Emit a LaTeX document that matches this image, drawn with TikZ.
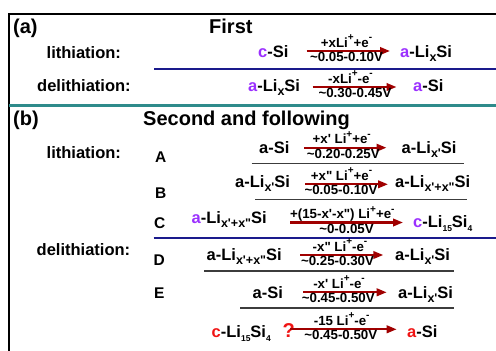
\documentclass[tikz,border=0pt]{standalone}
\usepackage{fontspec}
\usetikzlibrary{arrows.meta}
\newfontfamily\arb{Liberation Sans}
\definecolor{vio}{HTML}{9B30FF}
\definecolor{rd}{HTML}{F01414}
\definecolor{arr}{HTML}{A00000}
\definecolor{navy}{HTML}{1A1A8C}
\definecolor{tealline}{HTML}{2E8B8B}
\definecolor{rulegray}{HTML}{3C3C3C}
% raised charge, lowered indices
\newcommand\up[1]{\raisebox{6.5pt}{\fontsize{10}{10}\selectfont #1}}
\newcommand\dn[1]{\raisebox{-4.5pt}{\fontsize{12.5}{12.5}\selectfont #1}}
\newcommand\dns[1]{\raisebox{-4.5pt}{\fontsize{8.5}{8.5}\selectfont #1}}
\newcommand\pr{'}
\tikzset{
  spec/.style={inner sep=0pt, anchor=base west, font=\arb\bfseries\fontsize{16.5}{18}\selectfont},
  title/.style={spec, font=\arb\bfseries\fontsize{20}{22}\selectfont},
  tag/.style={spec, font=\arb\bfseries\fontsize{15.5}{17}\selectfont},
  lbl/.style={inner sep=0pt, anchor=base, font=\arb\bfseries\fontsize{13.3}{14}\selectfont},
  rx/.style={draw=arr, line width=2.2pt, -{Triangle[length=10pt,width=7.5pt]}},
  sep/.style={line width=1.6pt, draw=rulegray},
}
% reaction arrow: id, x start, x end, y, x of upper label, upper label, x of lower label, lower label
\newcommand\rxn[8]{%
  \coordinate (#1s) at (#2,#4);
  \coordinate (#1e) at (#3,#4);
  \draw[rx] (#1s) -- (#1e);
  \node[lbl] (#1t) at (#5,#4-4) {#6};
  \node[lbl] (#1b) at (#7,#4+10.5) {#8};
}
\begin{document}
\begin{tikzpicture}[x=1pt,y=-1pt]
\useasboundingbox (0,0) rectangle (496,351);
% frame
\coordinate (tl) at (9,14);
\coordinate (tr) at (496,14);
\coordinate (bl) at (9,351);
\draw[line width=2pt] (tr) -- (tl);
\draw[line width=2.5pt] (9,13) -- (bl);
% section (a)
\node[title] (pa) at (13,33) {(a)};
\node[title] (first) at (209,33) {First};
\node[spec] (lia) at (46.5,58) {lithiation:};
\node[spec] (dea) at (37,91) {delithiation:};
\node[spec] (a1l) at (258,57) {\textcolor{vio}{c}-Si};
\node[spec] (a1r) at (400,57) {\textcolor{vio}{a}-Li\dn{x}Si};
\rxn{a1}{306.5}{390}{51}{346.5}{+xLi\up{+}+e\up{-}}{346.5}{\textasciitilde0.05-0.10V}
\coordinate (n1a) at (154,68.5);
\coordinate (n1b) at (496,68.5);
\draw[navy, line width=2pt] (n1a) -- (n1b);
\node[spec] (a2l) at (248,91) {\textcolor{vio}{a}-Li\dn{x}Si};
\node[spec] (a2r) at (413,91) {\textcolor{vio}{a}-Si};
\rxn{a2}{312.5}{396.5}{87}{350.5}{-xLi\up{+}-e\up{-}}{355}{\textasciitilde0.30-0.45V}
\coordinate (t1) at (9,105.5);
\coordinate (t2) at (496,105.5);
\draw[tealline, line width=2.5pt] (t1) -- (t2);
% section (b)
\node[title] (pb) at (13,125) {(b)};
\node[title] (second) at (143,125) {Second and following};
\node[spec] (lib) at (46.5,158) {lithiation:};
\node[spec] (deb) at (36.5,255) {delithiation:};
\node[tag] (tA) at (155,162) {A};
\node[tag] (tB) at (155,198) {B};
\node[tag] (tC) at (154,228) {C};
\node[tag] (tD) at (153.5,265) {D};
\node[tag] (tE) at (154,298) {E};
% A
\node[spec] (Al) at (259,153) {a-Si};
\node[spec] (Ar) at (401.5,153) {a-Li\dn{x\pr}Si};
\rxn{A}{304}{386.5}{147.7}{341.7}{+x\pr{} Li\up{+}+e\up{-}}{343.3}{\textasciitilde0.20-0.25V}
\coordinate (gA1) at (251.5,163.5);
\coordinate (gA2) at (463.5,163.5);
\draw[sep] (gA1) -- (gA2);
% B
\node[spec] (Bl) at (235,187) {a-Li\dn{x\pr}Si};
\node[spec] (Br) at (395,187) {a-Li\dn{x\pr+x"}Si};
\rxn{B}{305}{388}{184.3}{341.5}{+x" Li\up{+}+e\up{-}}{341}{\textasciitilde0.05-0.10V}
\coordinate (gB1) at (255,199.5);
\coordinate (gB2) at (466.5,199.5);
\draw[sep] (gB1) -- (gB2);
% C
\node[spec] (Cl) at (191.5,223) {\textcolor{vio}{a}-Li\dn{x\pr+x"}Si};
\node[spec] (Cr) at (413,227) {\textcolor{vio}{c}-Li\dns{15}Si\dns{4}};
\rxn{C}{290}{403}{222.5}{342.3}{+(15-x\pr-x") Li\up{+}+e\up{-}}{346.5}{\textasciitilde0-0.05V}
\coordinate (n2a) at (153.5,238);
\coordinate (n2b) at (496,238);
\draw[navy, line width=2pt] (n2a) -- (n2b);
% D
\node[spec] (Dl) at (206.5,260) {a-Li\dn{x\pr+x"}Si};
\node[spec] (Dr) at (395,260) {a-Li\dn{x\pr}Si};
\rxn{D}{300}{383.3}{255}{340}{-x" Li\up{+}-e\up{-}}{337.5}{\textasciitilde0.25-0.30V}
\coordinate (gD1) at (204,271);
\coordinate (gD2) at (453.5,271);
\draw[sep] (gD1) -- (gD2);
% E
\node[spec] (El) at (252.5,298) {a-Si};
\node[spec] (Er) at (398,298) {a-Li\dn{x\pr}Si};
\rxn{E}{303.3}{386.7}{292.3}{339}{-x\pr{} Li\up{+}-e\up{-}}{338.3}{\textasciitilde0.45-0.50V}
\coordinate (gE1) at (240,307.7);
\coordinate (gE2) at (453.5,307.7);
\draw[sep] (gE1) -- (gE2);
% crystalline phase delithiation
\node[spec] (Fl) at (211.5,337) {\textcolor{rd}{c}-Li\dns{15}Si\dns{4}};
\node[spec, text=rd, font=\arb\bfseries\fontsize{20}{22}\selectfont] (q) at (282.5,337) {?};
\node[spec] (Fr) at (407,337) {\textcolor{rd}{a}-Si};
\rxn{F}{290}{396.7}{329.3}{341.7}{-15 Li\up{+}-e\up{-}}{340.8}{\textasciitilde0.45-0.50V}
\end{tikzpicture}
\end{document}
